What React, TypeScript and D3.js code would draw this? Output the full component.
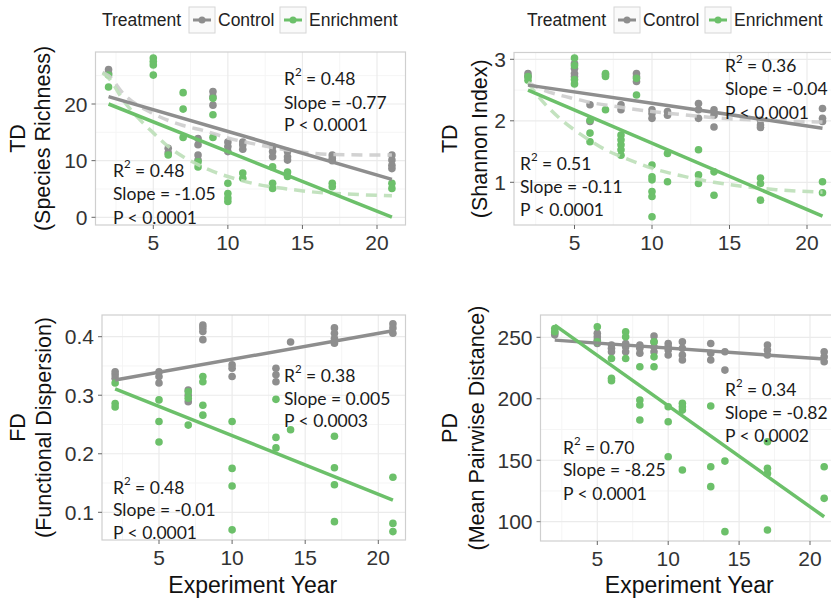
import React from 'react';
import * as d3 from 'd3';

type Pt = [number, number];

// ---------- data ----------
const xTickValues = [5, 10, 15, 20];
const xMinorValues = [2.5, 7.5, 12.5, 17.5];

// TD – Species Richness
const richControl: Pt[] = [[2,26.1],[2,25.4],[6,12.2],[6,11.4],[8,13.9],[8,12.8],[8,11.0],[8,10.1],[9,22.2],[9,21.3],[9,19.8],[10,13.3],[10,12.5],[10,11.6],[11,13.3],[11,12.8],[11,12.0],[13,12.5],[13,11.6],[13,10.7],[14,11.6],[14,10.7],[14,10.1],[17,11.0],[17,10.4],[17,10.0],[21,11.0],[21,10.1],[21,9.2],[21,8.6]];
const richEnrich: Pt[] = [[2,25.1],[2,23.0],[5,28.1],[5,27.5],[5,26.9],[5,25.1],[6,11.0],[7,22.0],[7,19.1],[7,14.1],[8,9.8],[8,8.9],[9,21.0],[9,18.1],[9,14.1],[10,6.0],[10,4.2],[10,3.4],[10,2.8],[11,7.8],[11,6.9],[13,8.9],[13,6.0],[13,5.1],[14,8.0],[14,7.2],[17,6.0],[17,5.4],[21,6.0],[21,5.1]];
const richControlFit: Pt[] = [[2,21.3],[21,6.7]];
const richEnrichFit: Pt[] = [[2,20.0],[21,0.05]];
const richControlCurve: Pt[] = [[1.6,25.6],[2,25.0],[3,21.8],[5,18.3],[7,16.2],[8.4,15.3],[10,14.0],[11.5,13.1],[13,12.3],[15.3,11.4],[17,11.1],[19.5,11.0],[21,11.0]];
const richEnrichCurve: Pt[] = [[1.6,25.5],[2,24.6],[3,20.6],[4,17.5],[5,14.9],[6,12.5],[7,10.7],[8,9.3],[9,8.1],[10,7.2],[12,5.8],[14,5.0],[16,4.4],[18,4.1],[21,3.8]];
const richTicks = [0, 10, 20];
const richMinor = [5, 15, 25];

// TD – Shannon Index
const shanControl: Pt[] = [[2,2.77],[2,2.72],[5,2.93],[5,2.85],[5,2.77],[5,2.72],[6,2.26],[6,1.99],[7,2.75],[8,2.26],[8,2.18],[9,2.77],[9,2.72],[9,2.64],[10,2.18],[10,2.12],[10,2.04],[11,2.15],[11,2.09],[13,2.28],[13,2.18],[13,2.04],[14,2.18],[14,2.09],[14,1.90],[17,2.01],[17,1.93],[17,1.89],[21,2.20],[21,2.04],[21,1.99]];
const shanEnrich: Pt[] = [[2,2.72],[2,2.66],[5,3.02],[5,2.9],[5,2.67],[5,2.6],[6,2.01],[6,1.80],[6,1.66],[7,2.77],[7,2.72],[7,2.18],[8,1.77],[8,1.69],[8,1.61],[8,1.53],[8,1.44],[9,2.69],[9,2.42],[10,1.28],[10,1.09],[10,1.04],[10,0.85],[10,0.77],[10,0.44],[11,1.47],[11,1.01],[13,1.53],[13,1.12],[13,0.98],[14,1.17],[14,0.79],[17,1.07],[17,0.98],[17,0.71],[21,1.01],[21,0.83]];
const shanControlFit: Pt[] = [[2,2.58],[21,1.88]];
const shanEnrichFit: Pt[] = [[2,2.50],[21,0.45]];
const shanControlCurve: Pt[] = [[2,2.62],[3,2.50],[4,2.42],[5,2.36],[6,2.30],[8,2.22],[10,2.15],[12,2.10],[14,2.05],[17,2.01],[21,1.98]];
const shanEnrichCurve: Pt[] = [[2,2.62],[3,2.30],[4,2.05],[5,1.85],[6,1.68],[7,1.53],[8,1.42],[9,1.32],[10,1.23],[12,1.10],[14,1.00],[16,0.93],[18,0.88],[21,0.84]];
const shanTicks = [1, 2, 3];
const shanMinor = [1.5, 2.5];

// FD – Functional Dispersion
const fdControl: Pt[] = [[2,0.340],[2,0.335],[2,0.329],[5,0.340],[5,0.332],[5,0.321],[7,0.309],[7,0.300],[7,0.289],[8,0.420],[8,0.415],[8,0.409],[8,0.395],[10,0.352],[10,0.346],[10,0.332],[13,0.346],[13,0.335],[13,0.323],[14,0.391],[17,0.415],[17,0.406],[17,0.397],[17,0.389],[21,0.422],[21,0.415],[21,0.406]];
const fdEnrich: Pt[] = [[2,0.321],[2,0.286],[2,0.280],[5,0.292],[5,0.255],[5,0.220],[7,0.306],[7,0.295],[7,0.249],[8,0.332],[8,0.323],[8,0.283],[8,0.266],[10,0.255],[10,0.175],[10,0.145],[10,0.070],[13,0.293],[13,0.228],[13,0.210],[14,0.241],[17,0.230],[17,0.176],[17,0.147],[17,0.084],[21,0.160],[21,0.081],[21,0.067]];
const fdControlFit: Pt[] = [[2,0.326],[21,0.410]];
const fdEnrichFit: Pt[] = [[2,0.311],[21,0.121]];
const fdTicks = [0.1, 0.2, 0.3, 0.4];
const fdMinor = [0.15, 0.25, 0.35];

// PD – Mean Pairwise Distance
const pdControl: Pt[] = [[2,254],[2,252],[5,253.2],[5,250.5],[5,247.7],[5,245],[6,243.7],[6,241],[6,238.2],[7,245],[7,242.3],[7,238.2],[8,243.7],[8,241],[8,237],[9,251],[9,246.3],[9,242.3],[9,238.2],[10,245],[10,242.3],[10,239.6],[10,235.6],[11,246.3],[11,241],[11,235.6],[11,231.5],[13,245],[13,237],[13,231.5],[14,238.2],[14,223.3],[17,243.7],[17,239.6],[17,235.6],[21,238.2],[21,234.1],[21,230.1]];
const pdEnrich: Pt[] = [[2,257.2],[2,254.5],[5,258.5],[5,246.3],[6,232.8],[6,216.6],[6,214.6],[7,254.5],[7,250.4],[7,232.8],[8,226],[8,198.9],[8,194.9],[8,182.7],[9,246.3],[9,234.1],[9,226],[10,193.5],[10,181.3],[10,152.8],[11,196.3],[11,193.5],[11,190.8],[11,142],[13,194.1],[13,144.7],[13,128.5],[14,149.3],[14,91.9],[17,165],[17,143.4],[17,139.3],[17,93.2],[21,144.7],[21,119]];
const pdControlFit: Pt[] = [[2,247.7],[21,232.3]];
const pdEnrichFit: Pt[] = [[2,259.9],[21,104]];
const pdTicks = [100, 150, 200, 250];
const pdMinor = [125, 175, 225];

const legendTitle = 'Treatment';
const legendLabels = ['Control', 'Enrichment'];
const xAxisTitle = 'Experiment Year';

// ---------- styles ----------
const CTRL = '#8e8e8e';
const ENR = '#6cc06a';
const CTRL_DASH = '#cdcdcd';
const ENR_DASH = '#bcdfb8';
const GRID = '#ebebeb';
const GRID_MINOR = '#f5f5f5';
const BORDER = '#cfcfcf';
const SANS = '"Liberation Sans", Arial, Helvetica, sans-serif';
const NOTE_FONT = 'Lato, "Open Sans", sans-serif';

interface Note { x: number; ys: number[]; r2: string; slope: string; p: string }
interface PanelCfg {
  box: { l: number; r: number; t: number; b: number };
  xCal: [number, number];
  yCal: [[number, number], [number, number]];
  yTicks: number[]; yMinor: number[]; yFmt: (v: number) => string;
  control: Pt[]; enrich: Pt[];
  controlFit: Pt[]; enrichFit: Pt[];
  controlCurve?: Pt[]; enrichCurve?: Pt[];
  notes: Note[];
  title: [string, string]; titleX: [number, number];
  xTitle: boolean;
}

const panels: PanelCfg[] = [
  {
    box: { l: 95.5, r: 405.5, t: 52, b: 225 },
    xCal: [153.3, 377], yCal: [[0, 217.3], [20, 104]],
    yTicks: richTicks, yMinor: richMinor, yFmt: d3.format('d'),
    control: richControl, enrich: richEnrich, controlFit: richControlFit, enrichFit: richEnrichFit,
    controlCurve: richControlCurve, enrichCurve: richEnrichCurve,
    notes: [
      { x: 284, ys: [78, 102, 124], r2: '0.48', slope: '-0.77', p: 'P < 0.0001' },
      { x: 113, ys: [170, 193, 217], r2: '0.48', slope: '-1.05', p: 'P < 0.0001' },
    ],
    title: ['TD', '(Species Richness)'], titleX: [18, 43], xTitle: false,
  },
  {
    box: { l: 514, r: 840, t: 52.5, b: 225 },
    xCal: [574.5, 807], yCal: [[1, 182.3], [3, 59.3]],
    yTicks: shanTicks, yMinor: shanMinor, yFmt: d3.format('d'),
    control: shanControl, enrich: shanEnrich, controlFit: shanControlFit, enrichFit: shanEnrichFit,
    controlCurve: shanControlCurve, enrichCurve: shanEnrichCurve,
    notes: [
      { x: 725, ys: [65, 88, 112], r2: '0.36', slope: '-0.04', p: 'P < 0.0001' },
      { x: 520, ys: [163, 186, 209], r2: '0.51', slope: '-0.11', p: 'P < 0.0001' },
    ],
    title: ['TD', '(Shannon Index)'], titleX: [450, 480], xTitle: false,
  },
  {
    box: { l: 102, r: 405.5, t: 315, b: 540 },
    xCal: [159, 378.3], yCal: [[0.1, 512.3], [0.4, 336.7]],
    yTicks: fdTicks, yMinor: fdMinor, yFmt: d3.format('.1f'),
    control: fdControl, enrich: fdEnrich, controlFit: fdControlFit, enrichFit: fdEnrichFit,
    notes: [
      { x: 284, ys: [375, 398, 420], r2: '0.38', slope: '0.005', p: 'P < 0.0003' },
      { x: 113, ys: [487, 509, 532], r2: '0.48', slope: '-0.01', p: 'P < 0.0001' },
    ],
    title: ['FD', '(Functional Dispersion)'], titleX: [18, 44], xTitle: true,
  },
  {
    box: { l: 540.5, r: 840, t: 315, b: 541 },
    xCal: [597.3, 810], yCal: [[100, 521.7], [250, 337.3]],
    yTicks: pdTicks, yMinor: pdMinor, yFmt: d3.format('d'),
    control: pdControl, enrich: pdEnrich, controlFit: pdControlFit, enrichFit: pdEnrichFit,
    notes: [
      { x: 725, ys: [389, 412, 435], r2: '0.34', slope: '-0.82', p: 'P < 0.0002' },
      { x: 563, ys: [447, 469, 493], r2: '0.70', slope: '-8.25', p: 'P < 0.0001' },
    ],
    title: ['PD', '(Mean Pairwise Distance)'], titleX: [450, 477], xTitle: true,
  },
];

function NoteBlock({ n }: { n: Note }) {
  const st = { fontFamily: NOTE_FONT, fontSize: 17.5, fill: '#1a1a1a' } as const;
  return (
    <g>
      <text x={n.x} y={n.ys[0]} dominantBaseline="central" style={st}>
        R<tspan dy={-7} fontSize={11.5}>2</tspan><tspan dy={7}>{` = ${n.r2}`}</tspan>
      </text>
      <text x={n.x} y={n.ys[1]} dominantBaseline="central" style={st}>{`Slope = ${n.slope}`}</text>
      <text x={n.x} y={n.ys[2]} dominantBaseline="central" style={st}>{n.p}</text>
    </g>
  );
}

function Panel({ cfg, id }: { cfg: PanelCfg; id: number }) {
  const { box } = cfg;
  const xs = d3.scaleLinear().domain([5, 20]).range(cfg.xCal);
  const ys = d3.scaleLinear().domain([cfg.yCal[0][0], cfg.yCal[1][0]]).range([cfg.yCal[0][1], cfg.yCal[1][1]]);
  const straight = d3.line<Pt>().x(d => xs(d[0])).y(d => ys(d[1]));
  const smooth = d3.line<Pt>().x(d => xs(d[0])).y(d => ys(d[1])).curve(d3.curveMonotoneX);
  const clip = `clip${id}`;
  const tickLen = 4;
  const midY = (box.t + box.b) / 2;
  const tickStyle = { fontFamily: SANS, fontSize: 21, fill: '#333' } as const;
  return (
    <g>
      <defs>
        <clipPath id={clip}><rect x={box.l} y={box.t} width={box.r - box.l} height={box.b - box.t} /></clipPath>
      </defs>
      <rect x={box.l} y={box.t} width={box.r - box.l} height={box.b - box.t} fill="#fff" />
      <g clipPath={`url(#${clip})`}>
        {xMinorValues.map(v => <line key={'xm' + v} x1={xs(v)} x2={xs(v)} y1={box.t} y2={box.b} stroke={GRID_MINOR} strokeWidth={1} />)}
        {cfg.yMinor.map(v => <line key={'ym' + v} x1={box.l} x2={box.r} y1={ys(v)} y2={ys(v)} stroke={GRID_MINOR} strokeWidth={1} />)}
        {xTickValues.map(v => <line key={'xg' + v} x1={xs(v)} x2={xs(v)} y1={box.t} y2={box.b} stroke={GRID} strokeWidth={1.2} />)}
        {cfg.yTicks.map(v => <line key={'yg' + v} x1={box.l} x2={box.r} y1={ys(v)} y2={ys(v)} stroke={GRID} strokeWidth={1.2} />)}
        {cfg.control.map((d, i) => <circle key={'c' + i} cx={xs(d[0])} cy={ys(d[1])} r={3.8} fill={CTRL} />)}
        {cfg.enrich.map((d, i) => <circle key={'e' + i} cx={xs(d[0])} cy={ys(d[1])} r={3.8} fill={ENR} />)}
        {cfg.controlCurve && <path d={smooth(cfg.controlCurve) || ''} fill="none" stroke={CTRL_DASH} strokeWidth={3.5} strokeDasharray="11,7" opacity={0.9} />}
        {cfg.enrichCurve && <path d={smooth(cfg.enrichCurve) || ''} fill="none" stroke={ENR_DASH} strokeWidth={3.5} strokeDasharray="11,7" opacity={0.9} />}
        <path d={straight(cfg.controlFit) || ''} fill="none" stroke={CTRL} strokeWidth={3.5} />
        <path d={straight(cfg.enrichFit) || ''} fill="none" stroke={ENR} strokeWidth={3.5} />
      </g>
      <rect x={box.l} y={box.t} width={box.r - box.l} height={box.b - box.t} fill="none" stroke={BORDER} strokeWidth={1.2} />
      {xTickValues.map(v => (
        <g key={'xt' + v}>
          <line x1={xs(v)} x2={xs(v)} y1={box.b} y2={box.b + tickLen} stroke="#666" strokeWidth={1} />
          <text x={xs(v)} y={box.b + 17} textAnchor="middle" dominantBaseline="central" style={tickStyle}>{v}</text>
        </g>
      ))}
      {cfg.yTicks.map(v => (
        <g key={'yt' + v}>
          <line x1={box.l - tickLen} x2={box.l} y1={ys(v)} y2={ys(v)} stroke="#666" strokeWidth={1} />
          <text x={box.l - 8} y={ys(v)} textAnchor="end" dominantBaseline="central" style={tickStyle}>{cfg.yFmt(v)}</text>
        </g>
      ))}
      {cfg.title.map((t, i) => (
        <text key={'ti' + i} transform={`translate(${cfg.titleX[i]},${midY}) rotate(-90)`} textAnchor="middle" dominantBaseline="central" style={{ fontFamily: SANS, fontSize: 21.5, fill: '#111' }}>{t}</text>
      ))}
      {cfg.xTitle && (
        <text x={(box.l + box.r) / 2 - 1} y={585} textAnchor="middle" dominantBaseline="central" style={{ fontFamily: SANS, fontSize: 23, fill: '#111' }}>{xAxisTitle}</text>
      )}
      {cfg.notes.map((n, i) => <NoteBlock key={'n' + i} n={n} />)}
    </g>
  );
}

function Legend({ dx }: { dx: number }) {
  const colors = [CTRL, ENR];
  const keyX = [189, 280];
  const labX = [218, 309];
  const cy = 20;
  const st = { fontFamily: SANS, fontSize: 17.5, fill: '#222' } as const;
  return (
    <g transform={`translate(${dx},0)`}>
      <text x={102} y={cy} dominantBaseline="central" style={st}>{legendTitle}</text>
      {legendLabels.map((lab, i) => (
        <g key={lab}>
          <rect x={keyX[i]} y={cy - 13} width={26} height={26} fill="#fafafa" stroke="#d6d6d6" strokeWidth={1} />
          <line x1={keyX[i] + 4} x2={keyX[i] + 22} y1={cy} y2={cy} stroke={colors[i]} strokeWidth={3} />
          <circle cx={keyX[i] + 13} cy={cy} r={3.5} fill={colors[i]} />
          <text x={labX[i]} y={cy} dominantBaseline="central" style={st}>{lab}</text>
        </g>
      ))}
    </g>
  );
}

export default function App() {
  return (
    <svg width={831} height={598} viewBox="0 0 831 598" style={{ position: 'absolute', left: 0, top: 0, background: '#fff' }}>
      <rect x={0} y={0} width={831} height={598} fill="#fff" />
      <Legend dx={0} />
      <Legend dx={425} />
      {panels.map((p, i) => <Panel key={i} cfg={p} id={i} />)}
    </svg>
  );
}
